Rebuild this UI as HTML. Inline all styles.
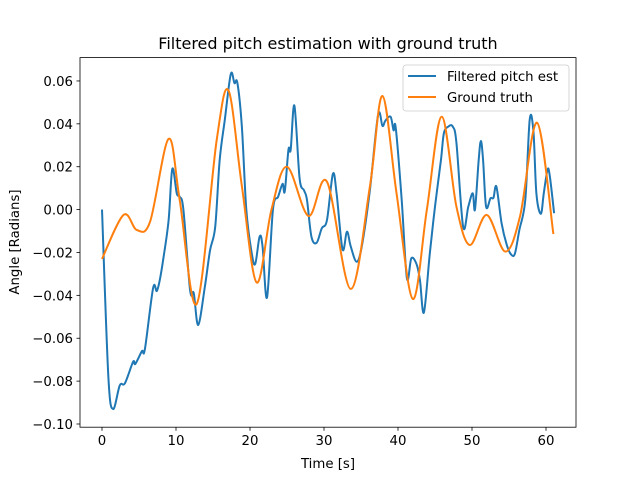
<!DOCTYPE html>
<html><head><meta charset="utf-8"><style>
body{margin:0;background:#fff}
svg text{font-family:"DejaVu Sans","Liberation Sans",sans-serif;fill:#000}
</style></head><body>
<svg id="chart" width="640" height="480" xmlns="http://www.w3.org/2000/svg">
<rect width="640" height="480" fill="#fff"/>
<text x="328" y="49" text-anchor="middle" font-size="16">Filtered pitch estimation with ground truth</text>
<g id="plot"></g>
<rect x="80" y="57.6" width="496" height="369.6" fill="none" stroke="#000" stroke-width="0.8"/>
<g id="xt"></g><g id="yt"></g>
<text x="328" y="468" text-anchor="middle" font-size="13.3">Time [s]</text>
<text transform="translate(19,242) rotate(-90)" text-anchor="middle" font-size="13.3">Angle [Radians]</text>
<g>
<rect x="403" y="65" width="166" height="46" rx="3" fill="#fff" fill-opacity="0.8" stroke="#ccc" stroke-width="0.8"/>
<line x1="408" y1="76" x2="436" y2="76" stroke="#1f77b4" stroke-width="2"/>
<text x="447" y="81" font-size="13.3">Filtered pitch est</text>
<line x1="408" y1="97" x2="436" y2="97" stroke="#ff7f0e" stroke-width="2"/>
<text x="447" y="102" font-size="13.3">Ground truth</text>
</g>
</svg>
<script>
const estT=[0,0.86,1.5,2.4,3.1,4.2,4.5,5.4,5.8,6.9,7.4,7.8,8.3,9.0,9.5,10.1,10.5,11.0,11.9,12.4,13.0,13.9,14.6,15.3,15.9,16.6,17.4,17.9,18.3,18.9,19.5,20.2,20.7,21.3,21.7,22.3,23.1,23.8,24.4,24.7,25.2,25.5,26.0,26.7,27.3,27.7,28.3,29.0,29.7,30.4,31.2,31.7,32.5,33.1,33.6,34.4,35.1,36.2,37.3,37.9,38.3,39.0,39.4,39.7,40.5,41.2,41.8,42.5,42.97,43.5,44.3,45.0,45.8,46.2,46.8,47.4,47.9,48.8,49.5,50.1,50.4,50.9,51.2,51.5,51.9,52.5,52.9,53.3,54.0,54.7,55.3,55.8,56.4,57.2,57.8,58.3,58.7,59.3,59.7,60.2,60.5,61.1];
const estV=[0,-0.078,-0.093,-0.082,-0.081,-0.071,-0.072,-0.066,-0.065,-0.0367,-0.038,-0.033,-0.0226,-0.005,0.019,0.0076,0.006,0,-0.0375,-0.039,-0.0538,-0.036,-0.019,-0.008,0.023,0.042,0.0632,0.059,0.059,0.0387,0,-0.0196,-0.0254,-0.0126,-0.0173,-0.041,0,0.006,0.012,0.0085,0.028,0.028,0.0485,0.0146,0.009,0.0045,-0.0126,-0.0155,-0.0087,-0.0049,0.0166,0.0076,-0.0185,-0.0103,-0.017,-0.0243,-0.0173,0.009,0.044,0.039,0.0415,0.0433,0.037,0.038,0.0045,-0.032,-0.0227,-0.0254,-0.033,-0.048,-0.0204,0.0014,0.023,0.0356,0.0387,0.0387,0.031,-0.008,0.0014,0.0076,0,0.023,0.032,0.023,0.0014,0.0053,0.0055,0.0107,-0.0064,-0.0165,-0.021,-0.0205,-0.0095,0.0045,0.042,0.0365,0.0076,-0.002,0.0076,0.0185,0.016,-0.0017];
const gtT=[0,2.9,4.7,6.5,9.0,10.5,12.8,15.5,17.1,18.9,20.9,22.9,25.0,27.9,30.4,33.6,36.2,37.9,39.8,42.0,43.9,45.9,47.9,49.7,52.0,54.5,56.5,58.8,61.0];
const gtV=[-0.023,-0.0025,-0.0095,-0.0056,0.033,0.0045,-0.044,0.0325,0.0555,0.011,-0.034,0,0.020,-0.003,0.013,-0.037,0.0107,0.053,0.0077,-0.0417,0,0.0433,0.0013,-0.0165,-0.0025,-0.0196,-0.003,0.0405,-0.0114];
const xTicks=[0,10,20,30,40,50,60];
const yTicks=[-0.10,-0.08,-0.06,-0.04,-0.02,0.00,0.02,0.04,0.06];
const X=t=>102+t*7.4;
const Y=v=>209.6-v*2144;
const NS="http://www.w3.org/2000/svg";
const plot=document.getElementById('plot');
function mk(tag,attrs,parent){const e=document.createElementNS(NS,tag);for(const k in attrs)e.setAttribute(k,attrs[k]);parent.appendChild(e);return e;}
function spline(ts,vs){
const pts=ts.map((t,i)=>[X(t),Y(vs[i])]);
let d='M'+pts[0][0]+' '+pts[0][1];
for(let i=0;i<pts.length-1;i++){const p0=pts[Math.max(0,i-1)],a=pts[i],b=pts[i+1],p3=pts[Math.min(pts.length-1,i+2)];
const c1=[a[0]+(b[0]-p0[0])/6,a[1]+(b[1]-p0[1])/6],c2=[b[0]-(p3[0]-a[0])/6,b[1]-(p3[1]-a[1])/6];
d+=`C${c1[0].toFixed(2)} ${c1[1].toFixed(2)} ${c2[0].toFixed(2)} ${c2[1].toFixed(2)} ${b[0].toFixed(2)} ${b[1].toFixed(2)}`;}
return d;}
const p1=mk('path',{d:spline(estT,estV),fill:'none',stroke:'#1f77b4','stroke-width':2,'stroke-linejoin':'round'},plot);


const p2=mk('path',{d:spline(gtT,gtV),fill:'none',stroke:'#ff7f0e','stroke-width':2},plot);


const xt=document.getElementById('xt'),yt=document.getElementById('yt');
xTicks.forEach(t=>{const x=X(t);
const l=mk('line',{x1:x,x2:x,y1:427.2,y2:430.7,stroke:'#000','stroke-width':0.8},xt);


const tx=mk('text',{x:x,y:445,'text-anchor':'middle','font-size':13.3},xt);tx.textContent=t;

});
yTicks.forEach(v=>{const y=Y(v);
const l=mk('line',{x1:76.5,x2:80,y1:y,y2:y,stroke:'#000','stroke-width':0.8},yt);


const tx=mk('text',{x:73,y:y+5,'text-anchor':'end','font-size':13.3},yt);tx.textContent=(v<0?'\u2212':'')+Math.abs(v).toFixed(2);

});
</script>
</body></html>
